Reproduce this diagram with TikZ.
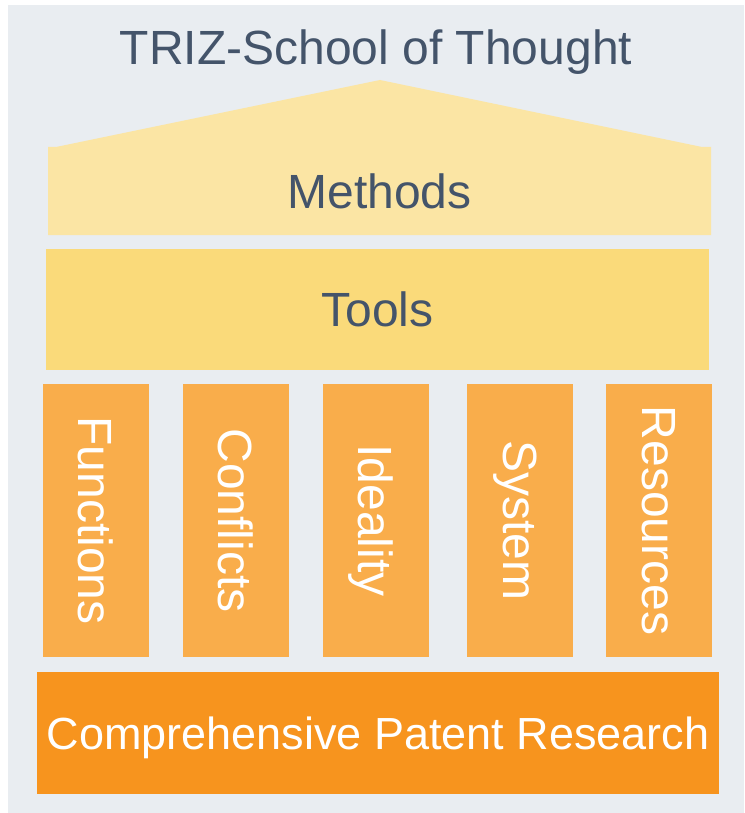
\documentclass[tikz,border=0pt]{standalone}
\usepackage{fontspec}
\setmainfont{Liberation Sans}
\definecolor{bgGrey}{HTML}{E9EDF1}
\definecolor{methodsYellow}{HTML}{FBE5A4}
\definecolor{toolsYellow}{HTML}{FADA7A}
\definecolor{pillarOrange}{HTML}{F9AD4B}
\definecolor{baseOrange}{HTML}{F7941E}
\definecolor{textBlue}{HTML}{44546A}
\begin{document}
\begin{tikzpicture}[x=1pt,y=-1pt,
    block/.style={rectangle,inner sep=0pt,text depth=0pt,font=\fontsize{48}{56}\selectfont},
    pillar/.style={block,fill=pillarOrange,text=white,rotate=-90,
      minimum width=273pt,minimum height=106pt}]
		\useasboundingbox (0,0) rectangle (744,813);
		\fill[bgGrey] (8,5) rectangle (744,813);
		\node[block,text=textBlue] (title) at (376,47) {TRIZ-School of Thought};
		\fill[methodsYellow] (48,235) -- (48,147) -- (56,147) -- (380,80)
		  -- (702,147) -- (711,147) -- (711,235) -- cycle;
		\node[block,text=textBlue] (methods) at (379.5,191) {Methods};
		\node[block,fill=toolsYellow,text=textBlue,minimum width=663pt,
		  minimum height=121pt] (tools) at (377.5,309.5) {Tools};
		\node[pillar] (functions) at (96,520.5)  {Functions};
		\node[pillar] (conflicts) at (236,520.5) {Conflicts};
		\node[pillar] (ideality)  at (376,520.5) {Ideality};
		\node[pillar] (system)    at (520,520.5) {System};
		\node[pillar] (resources) at (659,520.5) {Resources};
		\node[block,fill=baseOrange,text=white,minimum width=682pt,
		  minimum height=122pt,font=\fontsize{45}{54}\selectfont] (base) at (378,733)
		  {Comprehensive Patent Research};
\end{tikzpicture}
\end{document}
